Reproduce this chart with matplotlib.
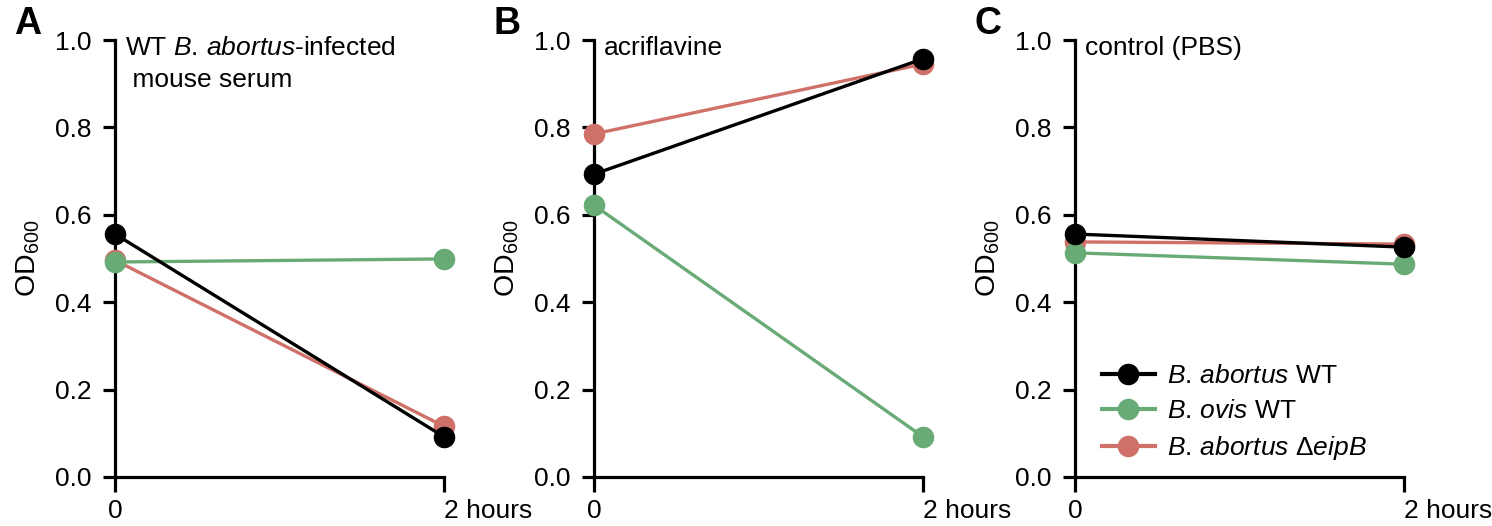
import matplotlib.pyplot as plt
from matplotlib.lines import Line2D
import matplotlib.transforms as mtransforms

plt.rcParams['font.family'] = ['Liberation Sans', 'DejaVu Sans']
plt.rcParams['mathtext.fontset'] = 'custom'
plt.rcParams['mathtext.rm'] = 'Liberation Sans'
plt.rcParams['mathtext.it'] = 'Liberation Sans:italic'

# --- data ---
timepoints = [0, 2]
xtick_labels = ['0', '2 hours']
panel_letters = ['A', 'B', 'C']
panel_titles = [r'WT $\it{B.\,abortus}$-infected' + '\n mouse serum',
                'acriflavine',
                'control (PBS)']

abortus_wt = [[0.556, 0.092], [0.693, 0.957], [0.556, 0.526]]
ovis_wt = [[0.492, 0.499], [0.622, 0.092], [0.513, 0.487]]
abortus_eipB = [[0.496, 0.116], [0.785, 0.945], [0.538, 0.533]]

abortus_wt_err = [[0.010, 0.008], [0.008, 0.008], [0.010, 0.008]]
ovis_wt_err = [[0.008, 0.006], [0.012, 0.010], [0.012, 0.008]]
abortus_eipB_err = [[0.008, 0.010], [0.008, 0.008], [0.008, 0.008]]

series_names = [r'$\it{B.\,abortus}$ WT', r'$\it{B.\,ovis}$ WT',
                r'$\it{B.\,abortus}$ Δ$\it{eipB}$']
colors = ['black', '#69ab77', '#cf7168']

fs = 19
fig = plt.figure(figsize=(14.92, 5.26), dpi=100)
lefts = [115, 594, 1075]
for i in range(3):
    ax = fig.add_axes([lefts[i] / 1492, 1 - 477 / 526, 329 / 1492, 437 / 526])
    # red first, black on top
    for vals, errs, c, z in [(abortus_eipB, abortus_eipB_err, colors[2], 3),
                             (ovis_wt, ovis_wt_err, colors[1], 4),
                             (abortus_wt, abortus_wt_err, colors[0], 5)]:
        ax.errorbar(timepoints, vals[i], yerr=errs[i], color=c, lw=2.4,
                    marker='o', ms=14.5, capsize=5, capthick=2, elinewidth=2,
                    zorder=z, clip_on=False)
    ax.set_xlim(0, 2)
    ax.set_ylim(0, 1.0)
    ax.set_yticks([0, 0.2, 0.4, 0.6, 0.8, 1.0])
    ax.set_yticklabels(['0.0', '0.2', '0.4', '0.6', '0.8', '1.0'])
    ax.set_xticks(timepoints)
    ax.set_xticklabels(xtick_labels)
    lab = ax.get_xticklabels()[1]
    lab.set_horizontalalignment('left')
    lab.set_transform(lab.get_transform() + mtransforms.ScaledTranslation(-7 / 100, 0, fig.dpi_scale_trans))
    for s in ['top', 'right']:
        ax.spines[s].set_visible(False)
    for s in ['left', 'bottom']:
        ax.spines[s].set_linewidth(2.3)
    ax.tick_params(axis='y', width=2.3, length=9, labelsize=fs, pad=8)
    ax.tick_params(axis='x', width=2.3, length=11, labelsize=fs, pad=5)
    ax.set_ylabel('OD$_{600}$', fontsize=20.5, labelpad=9)
    ax.text(0.03, 1.01, panel_titles[i], transform=ax.transAxes, fontsize=fs,
            va='top', ha='left', linespacing=1.45)
    fig.text((lefts[i] - 101) / 1492, 0.988, panel_letters[i], fontsize=27,
             fontweight='bold', va='top', ha='left')
    if i == 2:
        handles = [Line2D([], [], color=c, lw=3, marker='o', ms=14.5) for c in colors]
        ax.legend(handles, series_names, loc='lower left', bbox_to_anchor=(0.01, -0.02),
                  frameon=False, fontsize=fs, handlelength=2.0, handletextpad=0.45,
                  labelspacing=0.42)

fig.savefig('out.png', dpi=100)
